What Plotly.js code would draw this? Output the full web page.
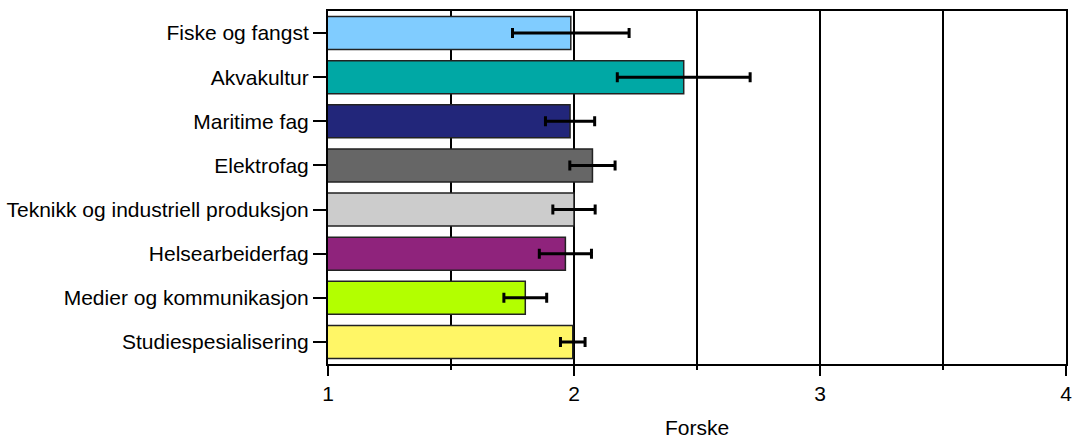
<!DOCTYPE html>
<html>
<head>
<meta charset="utf-8">
<script src="https://cdn.plot.ly/plotly-3.0.1.min.js"></script>
<style>html,body{margin:0;padding:0;background:#fff;}#chart{width:1073px;height:439px;}</style>
</head>
<body>
<div id="chart"></div>
<script>
const categories = ["Fiske og fangst","Akvakultur","Maritime fag","Elektrofag","Teknikk og industriell produksjon","Helsearbeiderfag","Medier og kommunikasjon","Studiespesialisering"];
const means = [1.987, 2.446, 1.984, 2.075, 2.0, 1.965, 1.802, 1.995];
const errors = [0.237, 0.27, 0.1, 0.092, 0.086, 0.106, 0.087, 0.05];
const colors = ["#80CCFF","#00A8A5","#22267A","#666666","#CCCCCC","#8F237C","#B3FF00","#FFF666"];
const xTicks = [1, 2, 3, 4];

const font = {family: "Liberation Sans, Arial, sans-serif", size: 21, color: "#000"};

Plotly.newPlot("chart", [{
  type: "bar",
  orientation: "h",
  y: categories,
  x: means,
  marker: {color: colors, line: {color: "#222", width: 1.5}},
  error_x: {type: "data", array: errors, symmetric: true, color: "#000", thickness: 3, width: 5},
  hoverinfo: "x+y"
}], {
  width: 1073, height: 439,
  margin: {l: 328, r: 7, t: 11, b: 75},
  paper_bgcolor: "#fff", plot_bgcolor: "#fff",
  font: font,
  showlegend: false,
  bargap: 0.25,
  xaxis: {
    range: [1, 4],
    tickvals: xTicks,
    ticks: "outside", ticklen: 10, tickwidth: 2, tickcolor: "#000",
    showgrid: true, gridcolor: "#000", gridwidth: 2,
    minor: {dtick: 0.5, tick0: 1, showgrid: true, gridcolor: "#000", gridwidth: 2, ticks: "outside", ticklen: 4, tickwidth: 2, tickcolor: "#000"},
    showline: true, linecolor: "#000", linewidth: 2, mirror: true,
    zeroline: false,
    tickfont: font,
    title: {text: "Forske", font: font, standoff: 20}
  },
  yaxis: {
    type: "category",
    autorange: "reversed",
    ticks: "outside", ticklen: 13, tickwidth: 2, tickcolor: "#000",
    showgrid: false,
    showline: true, linecolor: "#000", linewidth: 2, mirror: true,
    tickfont: font,
    ticklabelstandoff: 0
  }
}, {displayModeBar: false, staticPlot: true});
</script>
</body>
</html>
